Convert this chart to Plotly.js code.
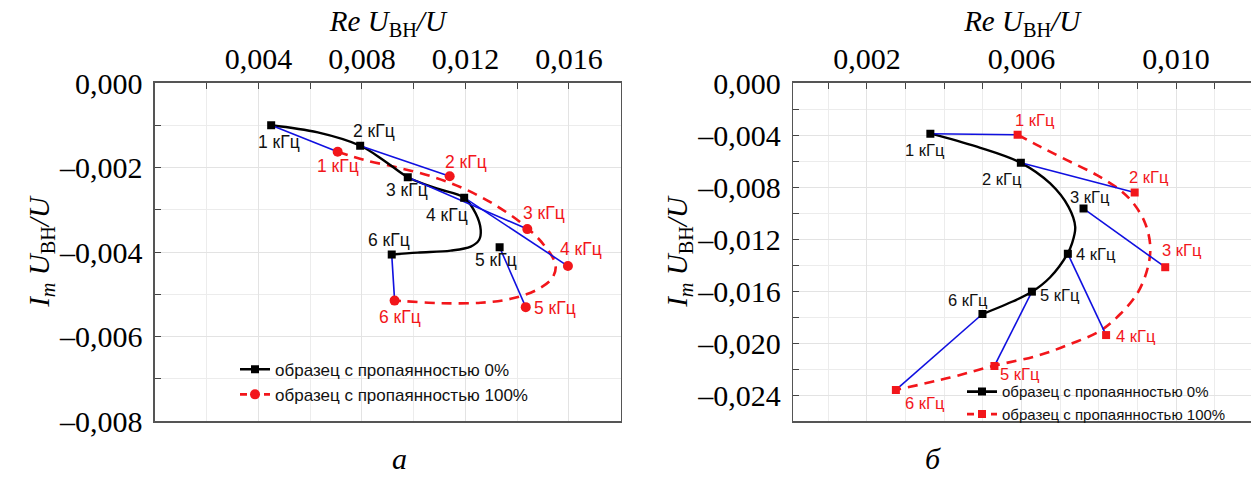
<!DOCTYPE html>
<html><head><meta charset="utf-8">
<script src="https://cdn.plot.ly/plotly-3.0.1.min.js"></script>
<style>html,body{margin:0;padding:0;background:#fff}#chart{width:1251px;height:477px}</style>
</head><body><div id="chart"></div>
<script>
// ---------- DATA ----------
const freqLabels = ['1 кГц', '2 кГц', '3 кГц', '4 кГц', '5 кГц', '6 кГц'];
const seriesNames = ['образец с пропаянностью 0%', 'образец с пропаянностью 100%'];

// panel а : measured points
const aRe0   = [0.00449, 0.00793, 0.00977, 0.01195, 0.01332, 0.00915];
const aIm0   = [-0.00100, -0.001486, -0.00223, -0.002714, -0.003887, -0.00406];
const aRe100 = [0.00706, 0.01139, 0.01439, 0.01596, 0.01433, 0.00926];
const aIm100 = [-0.001627, -0.002207, -0.003458, -0.004333, -0.005305, -0.00515];
// panel а : fitted curves
const aCurveRe0  = [0.00449, 0.006291, 0.007934, 0.00886, 0.009774, 0.010919, 0.011945, 0.012396, 0.01259, 0.012524, 0.012204, 0.011432, 0.010148, 0.009145];
const aCurveIm0  = [-0.001, -0.00117, -0.001486, -0.001838, -0.00223, -0.002502, -0.002714, -0.003089, -0.003481, -0.003716, -0.003873, -0.003967, -0.004014, -0.004061];
const aCurveRe100 = [0.007062, 0.008088, 0.009438, 0.010788, 0.011945, 0.013102, 0.014259, 0.015031, 0.015482, 0.015355, 0.014776, 0.013747, 0.012589, 0.011047, 0.009631, 0.00926];
const aCurveIm100 = [-0.001627, -0.001822, -0.002009, -0.00223, -0.002502, -0.002871, -0.003364, -0.003833, -0.004303, -0.004615, -0.00489, -0.005108, -0.005202, -0.005211, -0.005164, -0.005148];

// panel б : measured points
const bRe0   = [0.003642, 0.005984, 0.007606, 0.00720, 0.00627, 0.00499];
const bIm0   = [-0.00390, -0.00614, -0.00966, -0.01314, -0.01605, -0.01777];
const bRe100 = [0.00590, 0.00893, 0.00972, 0.00819, 0.00530, 0.00275];
const bIm100 = [-0.00398, -0.00843, -0.01417, -0.01939, -0.02176, -0.02361];
// panel б : fitted curves
const bCurveRe0 = [0.003635, 0.004845, 0.005984, 0.006743, 0.007218, 0.007391, 0.007306, 0.007192, 0.006743, 0.006251, 0.005622, 0.00499];
const bCurveIm0 = [-0.00387, -0.0049, -0.00614, -0.00773, -0.00953, -0.01108, -0.01236, -0.01314, -0.01494, -0.0161, -0.017, -0.01777];
const bCurveRe100 = [0.0059, 0.006484, 0.007176, 0.007953, 0.008557, 0.008902, 0.009205, 0.009334, 0.009249, 0.00899, 0.008557, 0.00804, 0.007262, 0.0064, 0.005275, 0.004153, 0.002746];
const bCurveIm100 = [-0.00398, -0.0049, -0.00593, -0.00709, -0.00825, -0.00927, -0.01082, -0.01263, -0.01442, -0.01622, -0.01777, -0.01906, -0.02008, -0.02099, -0.02176, -0.02266, -0.02361];

// tick labels
const aXTickVals = [0.004, 0.008, 0.012, 0.016];
const aXTickText = ['0,004', '0,008', '0,012', '0,016'];
const aYTickVals = [0, -0.002, -0.004, -0.006, -0.008];
const aYTickText = ['0,000', '–0,002', '–0,004', '–0,006', '–0,008'];
const bXTickVals = [0.002, 0.006, 0.010];
const bXTickText = ['0,002', '0,006', '0,010'];
const bYTickVals = [0, -0.004, -0.008, -0.012, -0.016, -0.020, -0.024];
const bYTickText = ['0,000', '–0,004', '–0,008', '–0,012', '–0,016', '–0,020', '–0,024'];

// ---------- STYLE ----------
const SERIF = '"Liberation Serif", "Times New Roman", serif';
const SANS = '"Liberation Sans", Arial, sans-serif';
const BLACK = '#000000', RED = '#f2161b', BLUE = '#1010e0';
// label offsets in pixels [dx, dy(down)]
const aOff0 = [[8,17],[14,-15],[-1,13],[-17,17],[-4,13],[-3,-15]];
const aOff100 = [[0,14],[16,-14],[17,-16],[13,-17],[29,1],[5,16]];
const bOff0 = [[-5,16],[-19,16],[6,-12],[28,0],[28,3],[-14,-14]];
const bOff100 = [[17,-15],[14,-16],[17,-17],[30,1],[26,8],[29,13]];

function connectors(x0, y0, x1, y1) {
  const xs = [], ys = [];
  for (let i = 0; i < x0.length; i++) { xs.push(x0[i], x1[i], null); ys.push(y0[i], y1[i], null); }
  return {xs, ys};
}

function panel(re0, im0, re100, im100, cRe0, cIm0, cRe100, cIm100, xa, ya, sym100, leg) {
  const c = connectors(re0, im0, re100, im100);
  const s100 = sym100 === 'circle' ? 10 : 8;
  return [
    {x: cRe100, y: cIm100, xaxis: xa, yaxis: ya, mode: 'lines', line: {color: RED, width: 2.6, dash: '10px,7px', shape: 'spline', smoothing: 1}, showlegend: false, hoverinfo: 'skip'},
    {x: cRe0, y: cIm0, xaxis: xa, yaxis: ya, mode: 'lines', line: {color: BLACK, width: 2.4, shape: 'spline', smoothing: 1}, showlegend: false, hoverinfo: 'skip'},
    {x: c.xs, y: c.ys, xaxis: xa, yaxis: ya, mode: 'lines', line: {color: BLUE, width: 1.6}, showlegend: false, hoverinfo: 'skip'},
    {x: re0, y: im0, xaxis: xa, yaxis: ya, mode: 'markers', marker: {symbol: 'square', size: 8, color: BLACK}, showlegend: false},
    {x: re100, y: im100, xaxis: xa, yaxis: ya, mode: 'markers', marker: {symbol: sym100, size: s100, color: RED}, showlegend: false},
    {x: [null], y: [null], xaxis: xa, yaxis: ya, mode: 'lines+markers', name: seriesNames[0], legend: leg,
     line: {color: BLACK, width: 2.6}, marker: {symbol: 'square', size: 8, color: BLACK}},
    {x: [null], y: [null], xaxis: xa, yaxis: ya, mode: 'lines+markers', name: seriesNames[1], legend: leg,
     line: {color: RED, width: 2.6, dash: '7px,5px'}, marker: {symbol: sym100, size: s100, color: RED}}
  ];
}

const data = [].concat(
  panel(aRe0, aIm0, aRe100, aIm100, aCurveRe0, aCurveIm0, aCurveRe100, aCurveIm100, 'x', 'y', 'circle', 'legend'),
  panel(bRe0, bIm0, bRe100, bIm100, bCurveRe0, bCurveIm0, bCurveRe100, bCurveIm100, 'x2', 'y2', 'square', 'legend2')
);

function labels(xs, ys, offs, color, xref, yref, size) {
  return xs.map((v, i) => ({
    x: v, y: ys[i], xref: xref, yref: yref, text: freqLabels[i], showarrow: false,
    xshift: offs[i][0], yshift: -offs[i][1], font: {family: SANS, size: size, color: color}
  }));
}

const annotations = [].concat(
  labels(aRe0, aIm0, aOff0, '#111111', 'x', 'y', 17.5),
  labels(aRe100, aIm100, aOff100, RED, 'x', 'y', 17.5),
  labels(bRe0, bIm0, bOff0, '#111111', 'x2', 'y2', 16.5),
  labels(bRe100, bIm100, bOff100, RED, 'x2', 'y2', 16.5),
  [{text: '<i>а</i>', x: 390/1251, y: -0.11, xref: 'paper', yref: 'paper', yanchor: 'middle', showarrow: false, font: {family: SERIF, size: 30, color: '#000'}},
   {text: '<i>б</i>', x: 943/1251, y: -0.11, xref: 'paper', yref: 'paper', yanchor: 'middle', showarrow: false, font: {family: SERIF, size: 30, color: '#000'}}]
);

const tickFont = {family: SERIF, size: 30, color: '#000'};
const titleFont = {family: SERIF, size: 29, color: '#000'};
const xTitle = '<i>Re U</i><sub>ВН</sub><i>/U</i>';
const yTitle = '<i>I</i><sub><i>m</i></sub><i> U</i><sub>ВН</sub><i>/U</i>';

function axisCommon(minorStep, minorStart) {
  return {showline: true, linecolor: '#555', linewidth: 1.6, ticks: 'inside', ticklen: 6, tickcolor: '#444',
          showgrid: true, gridcolor: '#e3e3e3', gridwidth: 1, zeroline: false, tickmode: 'array', tickfont: tickFont, fixedrange: true,
          minor: {tickmode: 'linear', tick0: minorStart, dtick: minorStep, ticks: 'inside', ticklen: 6, tickcolor: '#444', showgrid: true, gridcolor: '#ececec', gridwidth: 1}};
}

const layout = {
  width: 1251, height: 477,
  margin: {l: 0, r: 0, t: 83, b: 56},
  paper_bgcolor: '#fff', plot_bgcolor: '#fff',
  showlegend: true,
  xaxis: Object.assign(axisCommon(0.002, 0), {domain: [155/1251, 620.7/1251], range: [0, 0.018], side: 'top', anchor: 'y', mirror: true,
    tickvals: aXTickVals, ticktext: aXTickText, title: {text: xTitle, font: titleFont, standoff: 2}}),
  yaxis: Object.assign(axisCommon(0.001, 0), {domain: [0, 1], range: [-0.008, 0], anchor: 'x', mirror: true, ticklabelstandoff: 5,
    tickvals: aYTickVals, ticktext: aYTickText, title: {text: yTitle, font: titleFont, standoff: 0}}),
  xaxis2: Object.assign(axisCommon(0.001, 0), {domain: [793.3/1251, 1], range: [0.000095, 0.01194], side: 'top', anchor: 'y2', mirror: true,
    tickvals: bXTickVals, ticktext: bXTickText, title: {text: xTitle, font: titleFont, standoff: 2}}),
  yaxis2: Object.assign(axisCommon(0.002, 0), {domain: [0, 1], range: [-0.026, 0], anchor: 'x2', mirror: false, ticklabelstandoff: 5,
    tickvals: bYTickVals, ticktext: bYTickText, title: {text: yTitle, font: titleFont, standoff: 0}}),
  legend: {x: 235/1251, y: 0.205, xanchor: 'left', yanchor: 'top', bgcolor: 'rgba(0,0,0,0)', font: {family: SANS, size: 17, color: '#111'}, itemwidth: 30, tracegroupgap: 0},
  legend2: {x: 962/1251, y: 0.135, xanchor: 'left', yanchor: 'top', bgcolor: 'rgba(0,0,0,0)', font: {family: SANS, size: 15, color: '#111'}, itemwidth: 30, tracegroupgap: 0},
  annotations: annotations
};

Plotly.newPlot('chart', data, layout, {displayModeBar: false, staticPlot: true});
</script>
</body></html>
